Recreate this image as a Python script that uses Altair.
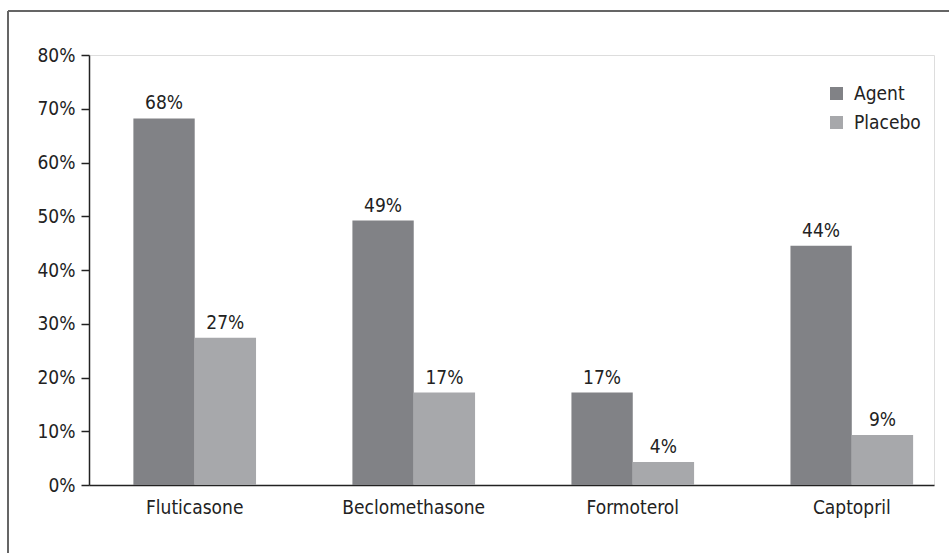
import altair as alt
import pandas as pd

drugs = ["Fluticasone", "Beclomethasone", "Formoterol", "Captopril"]
groups = ["Agent", "Placebo"]
agent_vals = [0.682, 0.492, 0.172, 0.445]
placebo_vals = [0.274, 0.172, 0.043, 0.093]
agent_labels = ["68%", "49%", "17%", "44%"]
placebo_labels = ["27%", "17%", "4%", "9%"]
colors = ["#818286", "#a7a8ab"]
y_ticks = [0, 0.1, 0.2, 0.3, 0.4, 0.5, 0.6, 0.7, 0.8]

rows = []
for i, d in enumerate(drugs):
    rows.append({"drug": d, "group": "Agent", "value": agent_vals[i], "label": agent_labels[i]})
    rows.append({"drug": d, "group": "Placebo", "value": placebo_vals[i], "label": placebo_labels[i]})
df = pd.DataFrame(rows)

FONT = "DejaVu Sans Condensed"
FS = 19

x_enc = alt.X("drug:N", sort=drugs, title=None,
              scale=alt.Scale(paddingInner=0.44, paddingOuter=0.149, align=0.68),
              axis=alt.Axis(labelAngle=0, ticks=False, labelPadding=13, domainColor="#222222",
                            domainWidth=1.5, labelFontSize=FS, labelFont=FONT, labelColor="#222222"))
xo = alt.XOffset("group:N", sort=groups)

bars = alt.Chart(df).mark_bar().encode(
    x=x_enc,
    xOffset=xo,
    y=alt.Y("value:Q", title=None,
            scale=alt.Scale(domain=[0, 0.8], nice=False),
            axis=alt.Axis(values=y_ticks, format=".0%", tickSize=8, tickColor="#222222",
                          domainColor="#222222", domainWidth=1.5, tickWidth=1.5, grid=False,
                          labelPadding=6, labelFontSize=FS, labelFont=FONT, labelColor="#222222")),
    color=alt.Color("group:N", sort=groups,
                    scale=alt.Scale(domain=groups, range=colors),
                    legend=alt.Legend(title=None, orient="none", legendX=738, legendY=29,
                                      symbolType="square", symbolSize=169, symbolStrokeWidth=0,
                                      labelFontSize=FS, labelFont=FONT, labelColor="#222222",
                                      rowPadding=9, labelOffset=8)),
)

texts = alt.Chart(df).mark_text(baseline="bottom", dy=-5, fontSize=FS, font=FONT, color="#222222").encode(
    x=alt.X("drug:N", sort=drugs),
    xOffset=xo,
    y="value:Q",
    text="label:N",
)

frame_top = alt.Chart(df).mark_rule(color="#666666", strokeWidth=1.5).encode(
    x=alt.value(-81), x2=alt.value(880), y=alt.value(-44))
frame_left = alt.Chart(df).mark_rule(color="#666666", strokeWidth=1.5).encode(
    x=alt.value(-81), y=alt.value(-44), y2=alt.value(520))

chart = alt.layer(frame_top, frame_left, bars, texts).properties(
    width=845, height=430,
    autosize=alt.AutoSizeParams(type="none"),
    padding={"left": 89, "top": 55, "right": 15, "bottom": 68},
).configure_view(stroke=None).configure(background="white")

chart.save("out.html", embed_options={"renderer": "svg", "actions": False})
